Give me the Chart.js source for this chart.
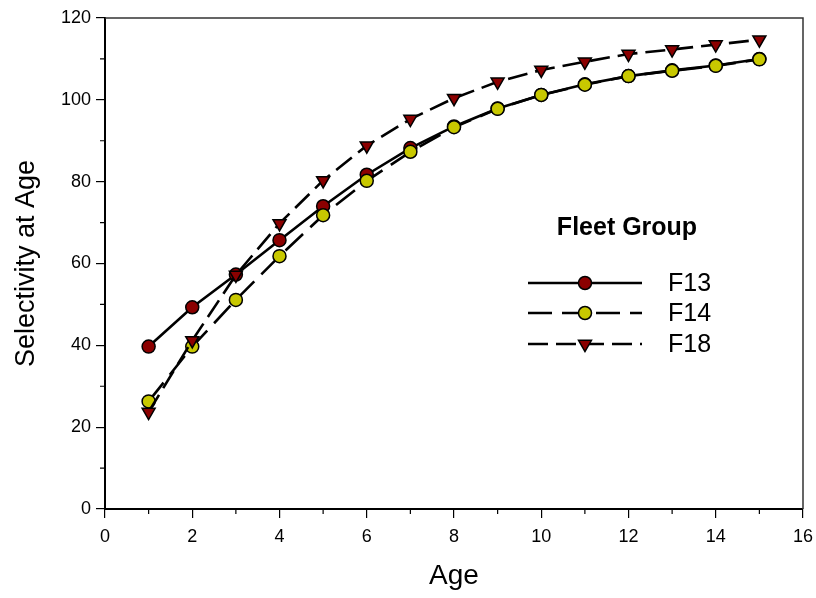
<!DOCTYPE html>
<html lang="en">
<head>
  <meta charset="UTF-8">
  <title>Selectivity at Age</title>
  <script src="https://cdn.jsdelivr.net/npm/chart.js"></script>
  <style>
    html, body { margin: 0; padding: 0; background: #fff; }
    .chart-container { width: 816px; height: 598px; position: relative; }
  </style>
</head>
<body>
  <div class="chart-container">
    <canvas id="myChart"></canvas>
  </div>

  <script>
    // values
    const ages = [1, 2, 3, 4, 5, 6, 7, 8, 9, 10, 11, 12, 13, 14, 15];
    const f13 = [39.7, 49.3, 57.3, 65.7, 74.0, 81.7, 88.2, 93.5, 97.9, 101.2, 103.8, 105.8, 107.2, 108.4, 110.0];
    const f14 = [26.3, 39.7, 51.1, 61.8, 71.8, 80.2, 87.3, 93.3, 97.8, 101.2, 103.7, 105.8, 107.1, 108.3, 109.9];
    const f18 = [23.7, 41.2, 57.2, 69.8, 80.3, 88.8, 95.3, 100.4, 104.4, 107.3, 109.3, 111.2, 112.3, 113.5, 114.7];
    const seriesNames = ['F13', 'F14', 'F18'];
    const legendTitle = 'Fleet Group';

    const RED = '#8b0000';
    const YELLOW = '#c8c800';
    const FONT = "Arial, 'Liberation Sans', sans-serif";

    const styles = [
      { color: RED,    dash: [],       pointStyle: 'circle',   rotation: 0,   radius: 6.5 },
      { color: YELLOW, dash: [24, 10], pointStyle: 'circle',   rotation: 0,   radius: 6.5 },
      { color: RED,    dash: [20, 8],  pointStyle: 'triangle', rotation: 180, radius: 7.5 }
    ];

    const toXY = vals => vals.map((v, i) => ({ x: ages[i], y: v }));

    const datasets = [f13, f14, f18].map((vals, i) => ({
      label: seriesNames[i],
      data: toXY(vals),
      borderColor: '#000',
      borderWidth: 2.6,
      borderDash: styles[i].dash,
      pointStyle: styles[i].pointStyle,
      rotation: styles[i].rotation,
      pointRadius: styles[i].radius,
      pointBackgroundColor: styles[i].color,
      pointBorderColor: '#000',
      pointBorderWidth: 1.5,
      tension: 0,
      fill: false,
      order: 3 - i,
      clip: false
    }));

    // box around the plot, minor ticks, and the in-plot legend
    const decor = {
      id: 'decor',
      beforeDatasetsDraw(chart) {
        const { ctx, chartArea: a, scales: { x, y } } = chart;
        ctx.save();
        ctx.strokeStyle = '#333';
        ctx.lineWidth = 1.5;
        ctx.beginPath();
        ctx.moveTo(a.left, a.top);
        ctx.lineTo(a.right, a.top);
        ctx.lineTo(a.right, a.bottom);
        ctx.stroke();

        ctx.strokeStyle = '#000';
        ctx.lineWidth = 1.2;
        ctx.beginPath();
        for (let v = 1; v < 16; v += 2) {
          const px = x.getPixelForValue(v);
          ctx.moveTo(px, a.bottom);
          ctx.lineTo(px, a.bottom + 5);
        }
        for (let v = 10; v < 120; v += 20) {
          const py = y.getPixelForValue(v);
          ctx.moveTo(a.left, py);
          ctx.lineTo(a.left - 5, py);
        }
        ctx.stroke();
        ctx.restore();
      },
      afterDraw(chart) {
        const { ctx } = chart;
        ctx.save();
        ctx.fillStyle = '#000';
        ctx.textBaseline = 'middle';
        ctx.textAlign = 'center';
        ctx.font = 'bold 25px ' + FONT;
        ctx.fillText(legendTitle, 627, 228);

        const rows = [283, 313, 344];
        const x0 = 528, x1 = 642, xm = 585;
        rows.forEach((ry, i) => {
          ctx.strokeStyle = '#000';
          ctx.lineWidth = 2.6;
          ctx.setLineDash(styles[i].dash);
          ctx.beginPath();
          ctx.moveTo(x0, ry);
          ctx.lineTo(x1, ry);
          ctx.stroke();
          ctx.setLineDash([]);
          ctx.fillStyle = styles[i].color;
          ctx.strokeStyle = '#000';
          ctx.lineWidth = 1.5;
          Chart.helpers.drawPoint(ctx, {
            pointStyle: styles[i].pointStyle,
            rotation: styles[i].rotation,
            radius: styles[i].radius,
            borderWidth: 1.5
          }, xm, ry);
          ctx.fillStyle = '#000';
          ctx.textAlign = 'left';
          ctx.font = '25px ' + FONT;
          ctx.fillText(seriesNames[i], 668, ry + 1);
        });
        ctx.restore();
      }
    };

    const ctx = document.getElementById('myChart').getContext('2d');
    new Chart(ctx, {
      type: 'line',
      data: { datasets },
      plugins: [decor],
      options: {
        responsive: true,
        maintainAspectRatio: false,
        animation: false,
        layout: { padding: { top: 18, right: 13, left: 0, bottom: 0 } },
        plugins: { legend: { display: false }, tooltip: { enabled: false } },
        scales: {
          x: {
            type: 'linear',
            min: 0,
            max: 16,
            ticks: { stepSize: 2, color: '#000', padding: 8, font: { family: FONT, size: 18 } },
            grid: { drawOnChartArea: false, drawTicks: true, tickLength: 9, color: '#000', lineWidth: 1.2 },
            border: { display: true, color: '#000', width: 2 },
            title: { display: true, text: 'Age', color: '#000', font: { family: FONT, size: 28 }, padding: { top: 0, bottom: 5 } },
            afterFit(scale) { scale.height = 89; scale.paddingRight = 0; scale.paddingLeft = 0; }
          },
          y: {
            min: 0,
            max: 120,
            ticks: { stepSize: 20, color: '#000', padding: 5, font: { family: FONT, size: 18 } },
            grid: { drawOnChartArea: false, drawTicks: true, tickLength: 9, color: '#000', lineWidth: 1.2 },
            border: { display: true, color: '#000', width: 2 },
            title: { display: true, text: 'Selectivity at Age', color: '#000', font: { family: FONT, size: 27 }, padding: { top: 10, bottom: 0 } },
            afterFit(scale) { scale.width = 105; scale.paddingTop = 0; scale.paddingBottom = 0; }
          }
        }
      }
    });
  </script>
</body>
</html>
